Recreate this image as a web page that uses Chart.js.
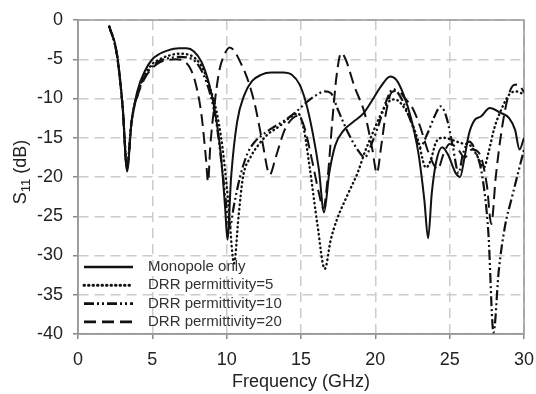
<!DOCTYPE html>
<html>
<head>
<meta charset="utf-8">
<script src="https://cdn.jsdelivr.net/npm/chart.js@4.4.1/dist/chart.umd.min.js"></script>
<style>
  body { margin: 0; background: #fff; }
  canvas { display: block; }
</style>
</head>
<body>
<canvas id="chart" width="536" height="394"></canvas>
<script>
// series labels
const seriesNames = ['Monopole only', 'DRR permittivity=5', 'DRR permittivity=10', 'DRR permittivity=20']
const xTicks = [0, 5, 10, 15, 20, 25, 30]
const yTicks = [0, -5, -10, -15, -20, -25, -30, -35, -40]

// monopole only (solid)
const monoFreq = [2.1, 2.6, 3.0, 3.3, 3.6, 4.0, 4.5, 5.0, 5.5, 6.0, 6.8, 7.3, 7.8, 8.3, 8.8, 9.2, 9.6, 9.9, 10.05, 10.3, 10.7, 11.2, 11.7, 12.3, 13.0, 13.8, 14.4, 14.9, 15.3, 15.8, 16.2, 16.55, 16.9, 17.3, 17.9, 18.5, 19.2, 19.8, 20.4, 21.0, 21.4, 21.9, 22.4, 22.9, 23.3, 23.55, 23.8, 24.1, 24.5, 24.9, 25.4, 25.7, 26.0, 26.3, 26.7, 27.1, 27.7, 28.4, 29.0, 29.4, 29.7, 30]
const monoS11 = [-0.8, -4, -11, -19.3, -13, -9, -6.5, -5.0, -4.3, -3.9, -3.6, -3.6, -4.0, -5.3, -8.0, -11.5, -17, -24, -28, -20, -13, -9.5, -7.8, -7.0, -6.7, -6.7, -7.0, -8.2, -10.3, -14.5, -19, -24.5, -19.5, -16, -14, -13, -11.9, -10.2, -8.4, -7.2, -7.6, -9.5, -12.5, -17, -23, -27.8, -22, -18, -16.2, -17.2, -19.5, -20, -17.5, -14.5, -12.7, -12.3, -11.2, -11.8, -12.5, -14, -16.5, -15]

// DRR permittivity=5 (dotted)
const eps5Freq = [2.1, 2.6, 3.0, 3.3, 3.6, 4.0, 4.5, 5.0, 5.5, 6.0, 6.8, 7.4, 7.9, 8.4, 8.9, 9.3, 9.7, 10.1, 10.5, 10.8, 11.1, 11.6, 12.1, 12.8, 13.5, 14.2, 14.8, 15.2, 15.6, 16.1, 16.6, 17.0, 17.4, 18.2, 18.8, 19.3, 19.8, 20.3, 20.8, 21.3, 21.8, 22.4, 22.9, 23.4, 23.7, 24.1, 24.6, 25.2, 25.8, 26.4, 26.9, 27.3, 27.6, 28.0, 28.5, 29.0, 29.5, 30]
const eps5S11 = [-0.8, -4.2, -11, -18.5, -13, -9.3, -7, -5.6, -5.0, -4.6, -4.3, -4.4, -4.9, -6.2, -8.8, -11.5, -16, -23, -31, -25, -20, -17.5, -16, -14.5, -13.6, -12.5, -11.9, -14, -19, -26, -31.7, -28, -25.5, -22, -19.5, -16.8, -14.5, -12.3, -10.6, -10.1, -10.8, -12.8, -15.5, -18.8, -18, -15.5, -15, -15.3, -15.7, -16, -17.5, -18.8, -17, -13.8, -11.3, -9.5, -9.1, -9.5]

// DRR permittivity=10 (dash-dot-dot)
const eps10Freq = [2.1, 2.6, 3.0, 3.3, 3.6, 4.0, 4.5, 5.0, 5.5, 6.0, 6.8, 7.4, 7.9, 8.4, 8.9, 9.3, 9.7, 10.0, 10.2, 10.5, 10.9, 11.4, 11.9, 12.5, 13.2, 13.9, 14.6, 15.3, 16.0, 16.6, 17.0, 17.5, 18.2, 18.8, 19.3, 19.7, 20.2, 20.7, 21.2, 21.6, 22.0, 22.5, 23.0, 23.5, 24.0, 24.4, 24.8, 25.2, 25.6, 25.9, 26.3, 26.7, 27.2, 27.6, 27.95, 28.3, 28.7, 29.2, 29.6, 30]
const eps10S11 = [-0.8, -4.2, -11, -18.8, -13, -9.5, -7.2, -5.9, -5.2, -4.9, -4.7, -4.8, -5.3, -6.8, -9.5, -13, -19, -24, -26.5, -23.5, -20, -17, -15.5, -14.5, -13.6, -12.8, -11.8, -10.6, -9.6, -9.1, -9.3, -11.5, -14.5, -16.5, -17.5, -16, -13.5, -10.5, -8.8, -9.5, -11, -13.5, -16.2, -14.5, -12.2, -11, -12.5, -16, -19.5, -17, -15.5, -16.5, -20, -27, -39.8, -32, -26.5, -22.5, -19.5, -16.5]

// DRR permittivity=20 (dashed)
const eps20Freq = [2.1, 2.6, 3.0, 3.3, 3.6, 4.0, 4.5, 5.0, 5.5, 6.0, 6.6, 7.1, 7.5, 7.9, 8.3, 8.6, 8.75, 8.9, 9.2, 9.5, 9.9, 10.2, 10.5, 10.9, 11.4, 11.9, 12.4, 12.9, 13.3, 13.9, 14.4, 14.8, 15.2, 15.7, 16.2, 16.5, 16.8, 17.1, 17.4, 17.7, 18.0, 18.6, 19.3, 19.8, 20.1, 20.4, 20.7, 21.1, 21.5, 22.0, 22.5, 23.0, 23.6, 24.2, 24.6, 25.0, 25.5, 26.0, 26.5, 27.0, 27.5, 27.8, 28.1, 28.5, 28.9, 29.3, 29.6, 30]
const eps20S11 = [-0.8, -4.3, -11, -19, -13, -9.7, -7.4, -6.1, -5.4, -5.1, -5.0, -5.2, -6.0, -8, -12, -17.5, -20.6, -16, -10.5, -6.5, -4.2, -3.5, -3.9, -5.3, -7.5, -10.8, -15.5, -19.7, -17.5, -14, -12.6, -12.2, -13.5, -17.5, -22, -24, -20, -13, -7, -4.2, -5.0, -8.5, -12, -16.5, -19.5, -16, -12, -9.2, -9.0, -10, -11.2, -13.5, -17, -19, -17, -15.8, -16.3, -17.5, -16.5, -17, -21, -26, -20, -14, -10, -8.3, -8.2, -9.2]

function toPoints(xs, ys) {
    return xs.map((x, i) => ({ x: x, y: ys[i] }))
}

const fontFamily = '"Liberation Sans", Arial, sans-serif'
Chart.defaults.font.family = fontFamily
Chart.defaults.color = '#222'

const lineStyles = [
    { dash: [], width: 2, cap: 'butt' },
    { dash: [0.5, 4], width: 2.4, cap: 'round' },
    { dash: [10, 3, 2, 3, 2, 3], width: 2.2, cap: 'butt' },
    { dash: [12, 6], width: 2, cap: 'butt' }
]

const seriesData = [
    toPoints(monoFreq, monoS11),
    toPoints(eps5Freq, eps5S11),
    toPoints(eps10Freq, eps10S11),
    toPoints(eps20Freq, eps20S11)
]

// frame, y title with real subscript, legend inside the plot
const framePlugin = {
    id: 'frame',
    beforeDatasetsDraw(chart) {
        const { ctx, chartArea } = chart
        ctx.save()
        ctx.strokeStyle = '#999'
        ctx.lineWidth = 1.5
        ctx.strokeRect(chartArea.left, chartArea.top, chartArea.right - chartArea.left, chartArea.bottom - chartArea.top)
        ctx.restore()
    },
    afterDraw(chart) {
        const { ctx, chartArea } = chart

        // y axis title: S with subscript 11
        ctx.save()
        ctx.fillStyle = '#222'
        ctx.textBaseline = 'alphabetic'
        ctx.translate(26, 172)
        ctx.rotate(-Math.PI / 2)
        const big = '18px ' + fontFamily
        const small = '13px ' + fontFamily
        ctx.font = big
        const wS = ctx.measureText('S').width
        const wRest = ctx.measureText(' (dB)').width
        ctx.font = small
        const wSub = ctx.measureText('11').width
        let x = -(wS + wSub + wRest) / 2
        ctx.font = big
        ctx.fillText('S', x, 0)
        x += wS
        ctx.font = small
        ctx.fillText('11', x, 4)
        x += wSub
        ctx.font = big
        ctx.fillText(' (dB)', x, 0)
        ctx.restore()

        // legend
        ctx.save()
        ctx.font = '15px ' + fontFamily
        ctx.textBaseline = 'middle'
        seriesNames.forEach((name, i) => {
            const y = chartArea.top + 247 + i * 18.3
            const st = lineStyles[i]
            ctx.strokeStyle = '#111'
            ctx.lineWidth = st.width + 0.6
            ctx.lineCap = st.cap
            ctx.setLineDash(st.dash)
            ctx.beginPath()
            ctx.moveTo(chartArea.left + 6, y)
            ctx.lineTo(chartArea.left + 55, y)
            ctx.stroke()
            ctx.setLineDash([])
            ctx.fillStyle = '#333'
            ctx.fillText(name, chartArea.left + 70, y)
        })
        ctx.restore()
    }
}

new Chart(document.getElementById('chart'), {
    type: 'line',
    data: {
        datasets: seriesData.map((pts, i) => ({
            label: seriesNames[i],
            data: pts,
            borderColor: '#111',
            borderWidth: lineStyles[i].width,
            borderDash: lineStyles[i].dash,
            borderCapStyle: lineStyles[i].cap,
            pointRadius: 0,
            fill: false,
            cubicInterpolationMode: 'monotone'
        }))
    },
    options: {
        responsive: false,
        animation: false,
        layout: { padding: { top: 20, right: 12, left: 0, bottom: 0 } },
        plugins: {
            legend: { display: false },
            tooltip: { enabled: false }
        },
        scales: {
            x: {
                type: 'linear',
                min: 0,
                max: 30,
                afterBuildTicks: (scale) => { scale.ticks = xTicks.map(v => ({ value: v })) },
                afterFit: (scale) => {
                    scale.height = 60
                    scale.paddingLeft = 0
                    scale.paddingRight = 0
                },
                ticks: { font: { size: 18 }, color: '#222', padding: 10 },
                grid: { color: '#cccccc', lineWidth: 1.5, tickLength: 5, tickColor: '#888', tickBorderDash: [] },
                border: { display: true, color: '#999', width: 1.5, dash: [10, 6] },
                title: { display: true, text: 'Frequency (GHz)', font: { size: 18 }, color: '#222', padding: { top: 0, bottom: 1 } }
            },
            y: {
                type: 'linear',
                min: -40,
                max: 0,
                afterBuildTicks: (scale) => { scale.ticks = yTicks.map(v => ({ value: v })) },
                afterFit: (scale) => {
                    scale.width = 78
                    scale.paddingTop = 0
                    scale.paddingBottom = 0
                },
                ticks: { font: { size: 18 }, color: '#222', padding: 10 },
                grid: { color: '#cccccc', lineWidth: 1.5, tickLength: 5, tickColor: '#888', tickBorderDash: [] },
                border: { display: true, color: '#999', width: 1.5, dash: [10, 6] },
                title: { display: false }
            }
        }
    },
    plugins: [framePlugin]
})
</script>
</body>
</html>
